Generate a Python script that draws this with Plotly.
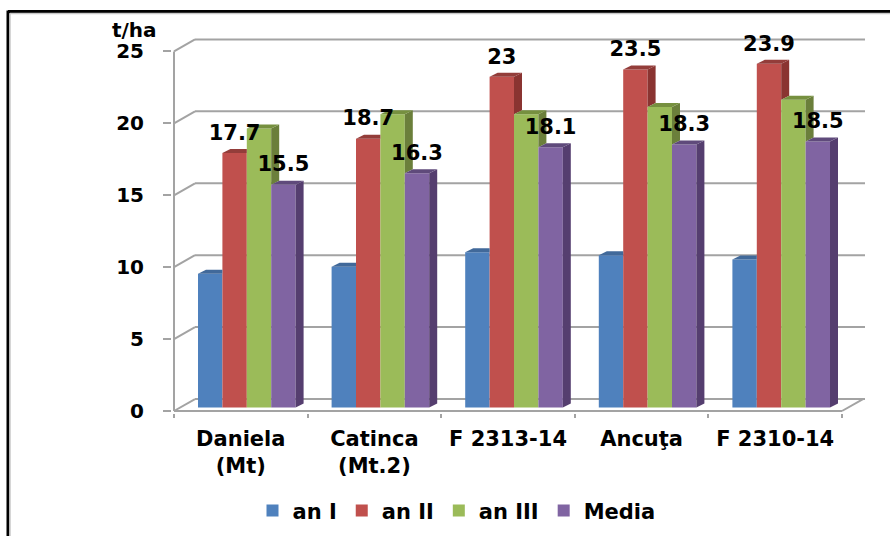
import plotly.graph_objects as go

# Yield per variety and year, in t/ha
varieties = ["Daniela<br>(Mt)", "Catinca<br>(Mt.2)", "F 2313-14", "Ancuţa", "F 2310-14"]
an_i = [9.3, 9.8, 10.8, 10.6, 10.3]
an_ii = [17.7, 18.7, 23, 23.5, 23.9]
an_iii = [19.4, 20.4, 20.4, 20.9, 21.4]
media = [15.5, 16.3, 18.1, 18.3, 18.5]
y_ticks = [0, 5, 10, 15, 20, 25]

series = [
    ("an I", an_i, "#4F81BD", "#3A5F8C", "#41699A", False),
    ("an II", an_ii, "#C0504D", "#8A3431", "#933D3A", True),
    ("an III", an_iii, "#9BBB59", "#6B7F3B", "#76903F", False),
    ("Media", media, "#8064A2", "#553E6F", "#5F4A7B", True),
]

# Plot box in pixels; the axes are sized so one category and one y unit
# keep a fixed pixel length and the oblique offsets stay consistent.
W, H = 890, 536
LEFT, RIGHT, TOP, BOTTOM = 174, 865, 39.5, 410.7
PAD = 2
PX_CAT = 133.6
PX_UNIT = 14.39
x_max = (RIGHT - LEFT) / PX_CAT
y_max = (BOTTOM - TOP) / PX_UNIT

# Oblique depth of the walls, the bars, and where the bars stand on the floor
WALL_DX, WALL_DY = 21 / PX_CAT, 12 / PX_UNIT
BAR_DX, BAR_DY = 8 / PX_CAT, 4 / PX_UNIT
BAR_BASE = 3.4 / PX_UNIT
BAR_W = 24.4 / PX_CAT
GROUP_START = 24 / PX_CAT
LABEL_LIFT = 8 / PX_UNIT

GRID = "#A3A3A3"
fig = go.Figure()


def bar_x(cat, s):
    return cat + GROUP_START + s * BAR_W


# Front faces, offset by the floor depth
for s, (name, vals, face, side, top, labelled) in enumerate(series):
    fig.add_trace(go.Bar(
        x=[bar_x(c, s) + BAR_W / 2 for c in range(len(vals))],
        y=vals,
        base=BAR_BASE,
        width=BAR_W,
        name=name,
        marker=dict(color=face, line=dict(width=0)),
        hoverinfo="skip",
    ))

# Top and right faces; whatever the next bar hides is left out
for s, (name, vals, face, side, top, labelled) in enumerate(series):
    for c, v in enumerate(vals):
        x0 = bar_x(c, s)
        x1 = x0 + BAR_W
        h = v + BAR_BASE
        nxt = series[s + 1][1][c] + BAR_BASE if s + 1 < len(series) else None
        if nxt is not None and nxt >= h:
            tx = [x0, x1, x1, x0 + BAR_DX, x0]
            ty = [h, h, h + BAR_DY, h + BAR_DY, h]
        else:
            tx = [x0, x1, x1 + BAR_DX, x0 + BAR_DX, x0]
            ty = [h, h, h + BAR_DY, h + BAR_DY, h]
            low = BAR_BASE if nxt is None else nxt
            fig.add_trace(go.Scatter(
                x=[x1, x1 + BAR_DX, x1 + BAR_DX, x1, x1],
                y=[low, low + BAR_DY, h + BAR_DY, h, low],
                mode="lines", fill="toself", fillcolor=side,
                line=dict(width=0), showlegend=False, hoverinfo="skip",
            ))
        fig.add_trace(go.Scatter(
            x=tx, y=ty, mode="lines", fill="toself", fillcolor=top,
            line=dict(width=0), showlegend=False, hoverinfo="skip",
        ))

# Value labels on the red and purple series
for s, (name, vals, face, side, top, labelled) in enumerate(series):
    if labelled:
        fig.add_trace(go.Scatter(
            x=[bar_x(c, s) + BAR_W / 2 for c in range(len(vals))],
            y=[v + BAR_BASE + LABEL_LIFT for v in vals],
            mode="text",
            text=[str(v) for v in vals],
            textposition="top center",
            textfont=dict(family="DejaVu Sans", size=21, color="#000000", weight=600),
            cliponaxis=False,
            showlegend=False, hoverinfo="skip",
        ))

# Walls and floor of the box
shapes = []


def seg(x0, y0, x1, y1):
    shapes.append(dict(type="line", xref="x", yref="y", x0=x0, y0=y0, x1=x1, y1=y1,
                       layer="below", line=dict(color=GRID, width=2)))


n = len(varieties)
for t in y_ticks:
    seg(0, t, WALL_DX, t + WALL_DY)
    seg(WALL_DX, t + WALL_DY, x_max, t + WALL_DY)
seg(0, 0, 0, y_ticks[-1])
seg(0, 0, n, 0)
seg(n, 0, n + WALL_DX, WALL_DY)

# Black frame along the top and left edges, with its thin grey inner edge
PLOT_L, PLOT_R, PLOT_T, PLOT_B = LEFT - PAD, RIGHT + PAD, TOP - PAD, BOTTOM + PAD
for x0, y0, x1, y1, col, w in [
    (8, 11, W, 11, "#000000", 3),
    (8, 10, 8, H, "#000000", 3),
    (10, 13, 10, H, "#C8C8C8", 1.5),
    (10, 13, W, 13, "#C8C8C8", 1.5),
]:
    shapes.append(dict(type="line", xref="paper", yref="paper",
                       x0=(x0 - PLOT_L) / (PLOT_R - PLOT_L), x1=(x1 - PLOT_L) / (PLOT_R - PLOT_L),
                       y0=(PLOT_B - y0) / (PLOT_B - PLOT_T), y1=(PLOT_B - y1) / (PLOT_B - PLOT_T),
                       line=dict(color=col, width=w)))

FONT = dict(family="DejaVu Sans", size=21, color="#000000", weight=700)
TICK_FONT = dict(family="DejaVu Sans", size=20, color="#000000", weight=700)

fig.update_layout(
    width=W, height=H,
    margin=dict(l=PLOT_L, r=W - PLOT_R, t=PLOT_T, b=H - PLOT_B, autoexpand=False),
    paper_bgcolor="#FFFFFF", plot_bgcolor="rgba(0,0,0,0)",
    barmode="overlay",
    shapes=shapes,
    xaxis=dict(
        range=[-PAD / PX_CAT, x_max + PAD / PX_CAT],
        showgrid=False, zeroline=False, showline=False,
        tickvals=[i + 0.5 for i in range(n)], ticktext=varieties, ticks="",
        tickfont=FONT, ticklabelstandoff=11,
        minor=dict(tickvals=list(range(n + 1)), ticks="outside", ticklen=4,
                   tickwidth=2, tickcolor=GRID, showgrid=False),
    ),
    yaxis=dict(
        range=[-PAD / PX_UNIT, y_max + PAD / PX_UNIT],
        showgrid=False, zeroline=False, showline=False,
        tickvals=y_ticks, ticks="outside", ticklen=8, tickwidth=2, tickcolor=GRID,
        tickfont=TICK_FONT, ticklabelstandoff=15,
    ),
    legend=dict(
        orientation="h", x=(255 + 658) / 2 / W, xref="container", y=0.047, yref="container",
        xanchor="center", yanchor="middle", traceorder="normal",
        font=FONT, bgcolor="rgba(0,0,0,0)",
    ),
    annotations=[dict(
        text="t/ha", xref="paper", yref="paper", xanchor="center", yanchor="middle",
        x=(134 - PLOT_L) / (PLOT_R - PLOT_L), y=(PLOT_B - 29) / (PLOT_B - PLOT_T),
        showarrow=False, font=dict(family="DejaVu Sans", size=20, color="#000000", weight=700),
    )],
)

fig.write_html("out.html")
